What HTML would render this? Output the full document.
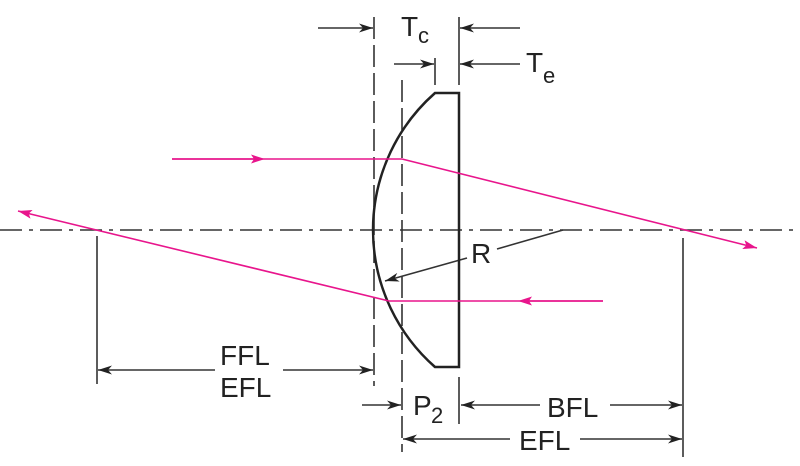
<!DOCTYPE html>
<html><head><style>html,body{margin:0;padding:0;background:#fff}svg{display:block}</style></head><body>
<svg width="800" height="466" viewBox="0 0 800 466" xmlns="http://www.w3.org/2000/svg" font-family="Liberation Sans, sans-serif" fill="none">
<defs>
<marker id="a" viewBox="0 0 14 9" refX="14" refY="4.5" markerWidth="14" markerHeight="9" markerUnits="userSpaceOnUse" orient="auto"><path d="M0,0 L14,4.5 L0,9 L4,4.5Z" fill="#222"/></marker>
<marker id="m" viewBox="0 0 14 9" refX="7" refY="4.5" markerWidth="14" markerHeight="9" markerUnits="userSpaceOnUse" orient="auto"><path d="M0,0 L14,4.5 L0,9 L3,4.5Z" fill="#e8158c"/></marker>
<marker id="me" viewBox="0 0 14 9" refX="14" refY="4.5" markerWidth="14" markerHeight="9" markerUnits="userSpaceOnUse" orient="auto"><path d="M0,0 L14,4.5 L0,9 L3,4.5Z" fill="#e8158c"/></marker>
</defs>
<g stroke="#333" stroke-width="1.6">
<line x1="0" y1="230" x2="800" y2="230" stroke-dasharray="22,7,4,7"/>
<line x1="374" y1="17" x2="374" y2="386" stroke-dasharray="22,6"/>
<line x1="402" y1="80" x2="402" y2="452" stroke-dasharray="22,6"/>
<line x1="459" y1="17" x2="459" y2="85"/>
<line x1="435" y1="58" x2="435" y2="85"/>
<line x1="459" y1="377" x2="459" y2="424"/>
<line x1="97" y1="236" x2="97" y2="384"/>
<line x1="683" y1="238" x2="683" y2="457"/>
<line x1="318" y1="28" x2="373" y2="28" marker-end="url(#a)"/>
<line x1="520" y1="28" x2="460" y2="28" marker-end="url(#a)"/>
<line x1="520" y1="64" x2="460" y2="64" marker-end="url(#a)"/>
<line x1="394" y1="64" x2="434" y2="64" marker-end="url(#a)"/>
<line x1="215" y1="370" x2="98" y2="370" marker-end="url(#a)"/>
<line x1="283" y1="370" x2="373" y2="370" marker-end="url(#a)"/>
<line x1="362" y1="405" x2="401" y2="405" marker-end="url(#a)"/>
<line x1="540" y1="405" x2="461" y2="405" marker-end="url(#a)"/>
<line x1="610" y1="405" x2="682" y2="405" marker-end="url(#a)"/>
<line x1="510" y1="439" x2="403" y2="439" marker-end="url(#a)"/>
<line x1="580" y1="439" x2="682" y2="439" marker-end="url(#a)"/>
<line x1="563" y1="230" x2="497" y2="249"/>
<line x1="467" y1="258" x2="385" y2="281" marker-end="url(#a)"/>
</g>
<path d="M435,93 L459,93 L459,367 L435,367 A182.4,182.4 0 0 1 435,93 Z" stroke="#222" stroke-width="2.5" stroke-linejoin="miter"/>
<g stroke="#e8158c" stroke-width="1.6">
<line x1="172" y1="159" x2="402" y2="159"/>
<line x1="172" y1="159" x2="258" y2="159" marker-end="url(#m)"/>
<line x1="402" y1="159" x2="757" y2="248" marker-end="url(#me)"/>
<line x1="603" y1="301" x2="389" y2="301"/>
<line x1="603" y1="301" x2="525" y2="301" marker-end="url(#m)"/>
<line x1="389" y1="301" x2="18" y2="211" marker-end="url(#me)"/>
</g>
<g fill="#222" font-size="28">
<text x="401" y="36">T</text><text x="418" y="43" font-size="22">c</text>
<text x="526" y="72">T</text><text x="543" y="83" font-size="22">e</text>
<text x="471" y="263">R</text>
<text x="220" y="365">FFL</text>
<text x="220" y="397">EFL</text>
<text x="413" y="415">P</text><text x="431" y="423" font-size="22">2</text>
<text x="547" y="417">BFL</text>
<text x="519" y="450">EFL</text>
</g>
</svg>
</body></html>
